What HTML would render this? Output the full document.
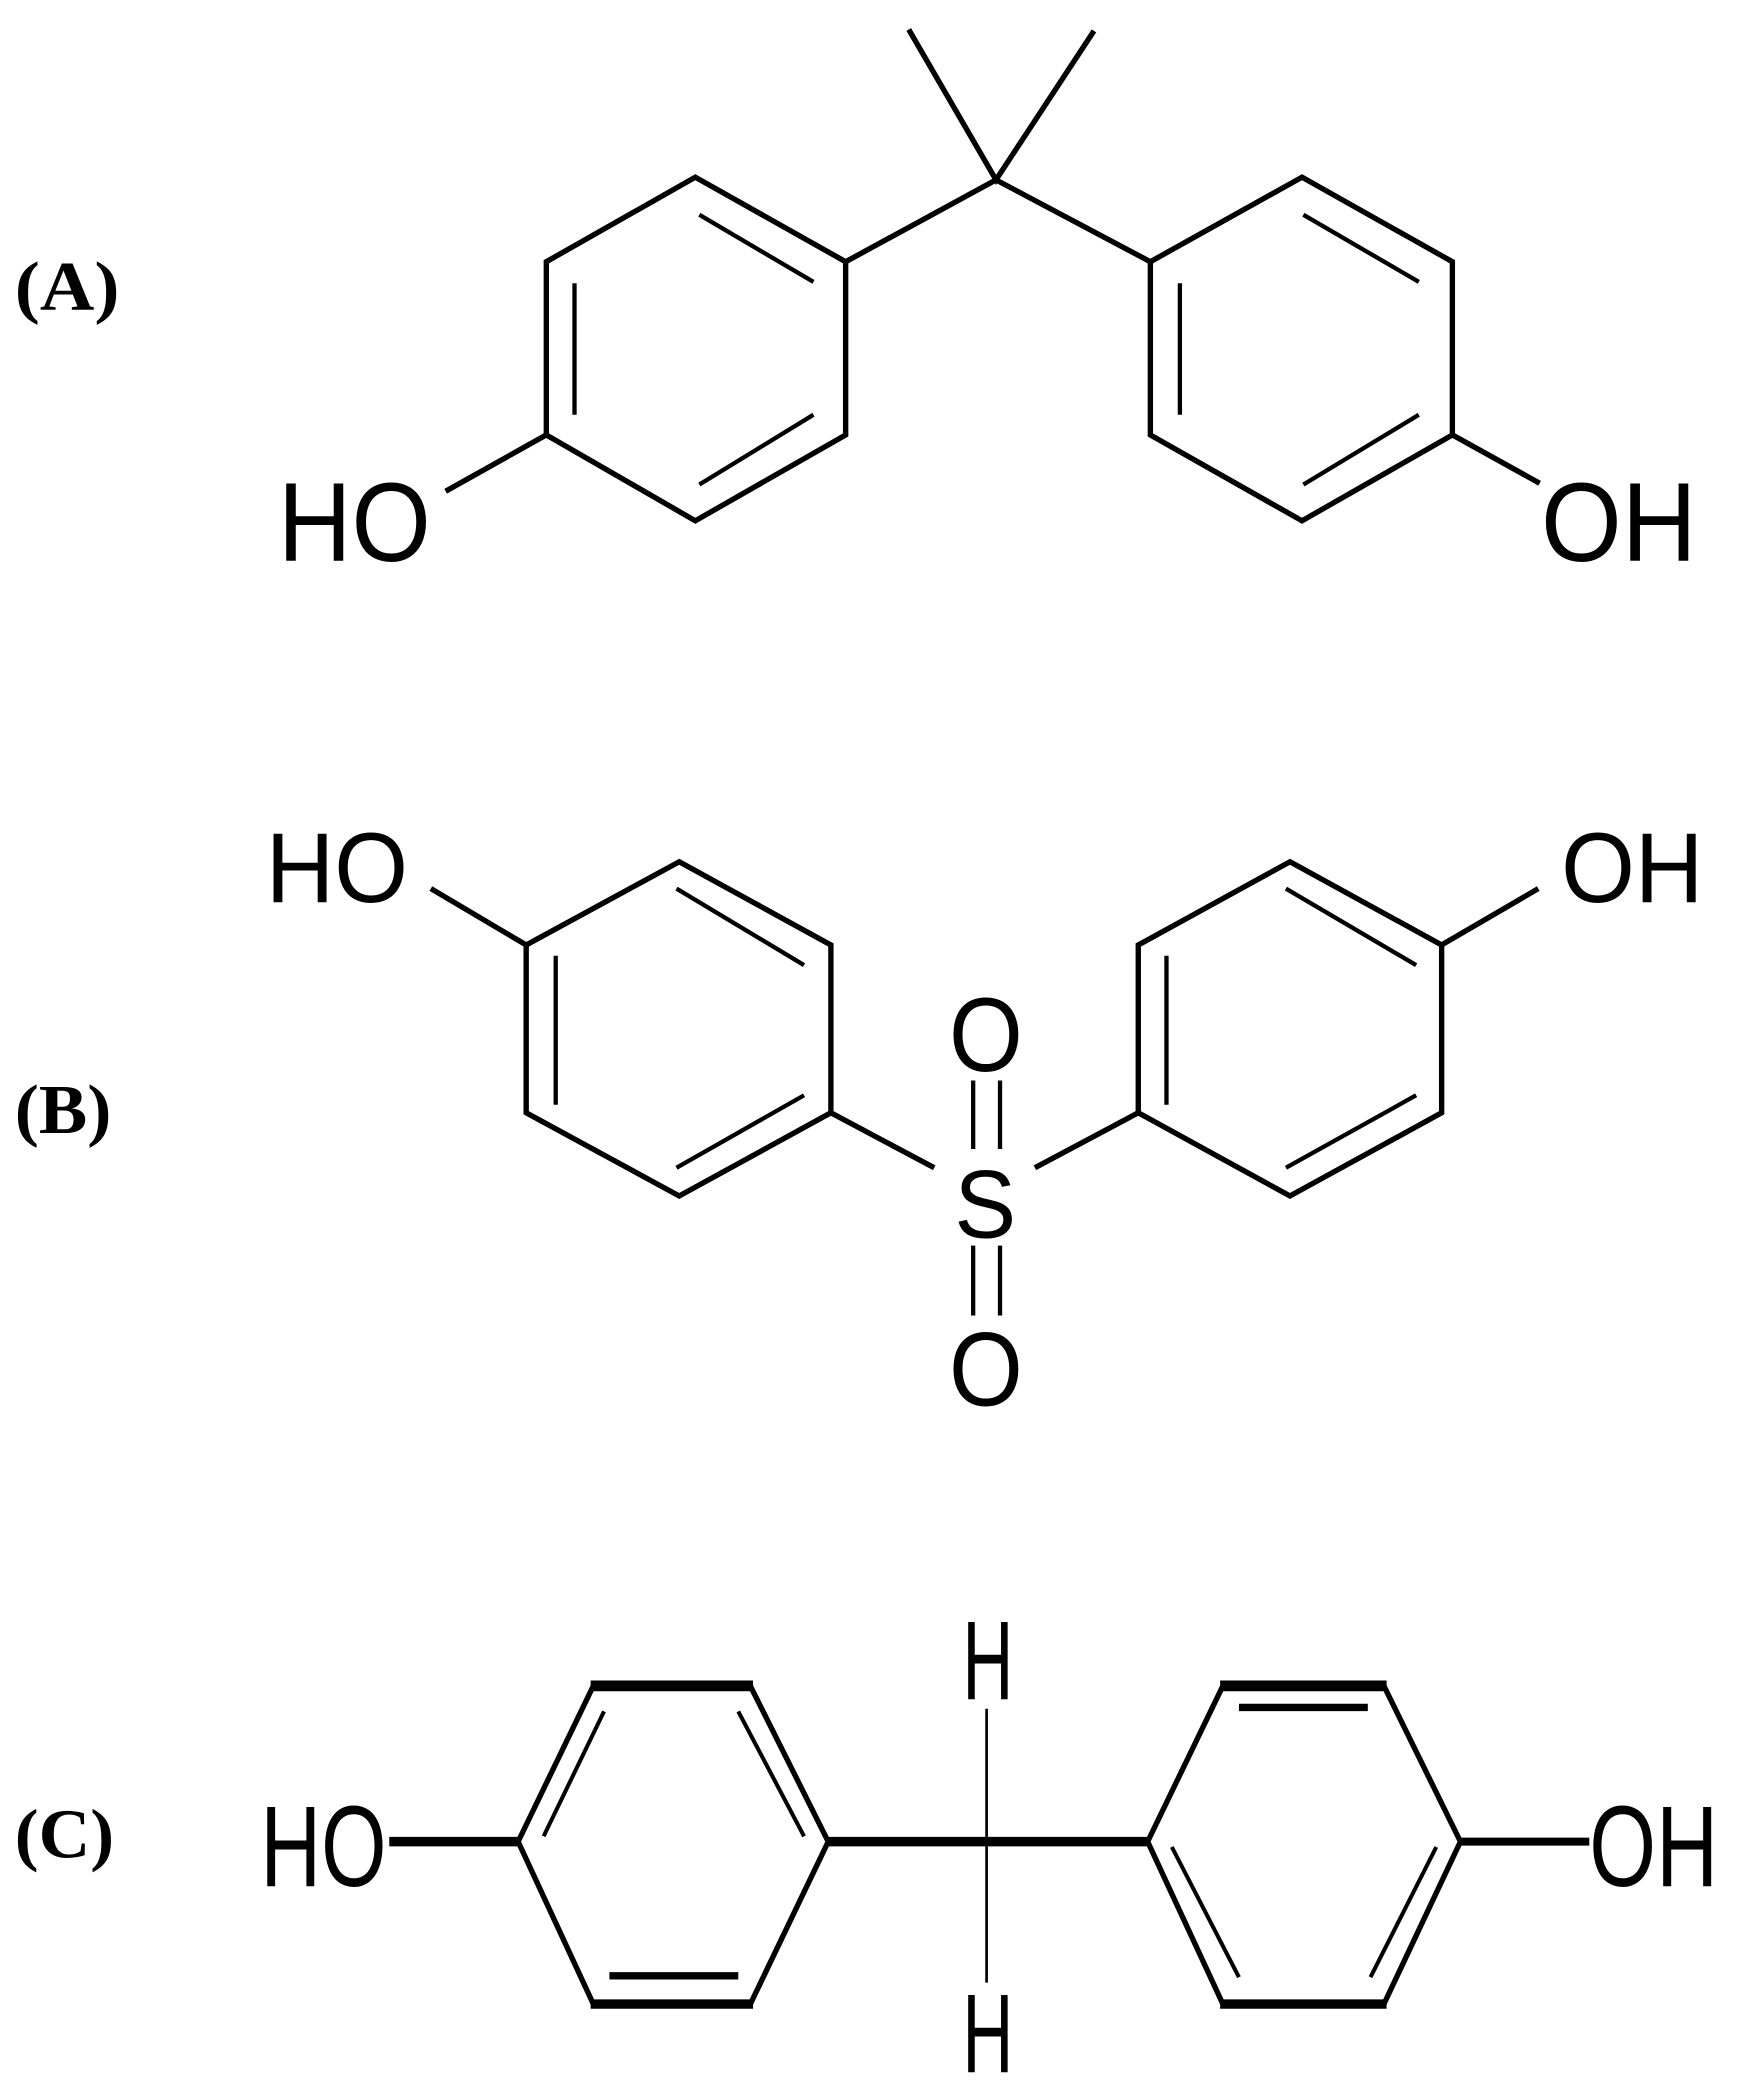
<!DOCTYPE html>
<html><head><meta charset="utf-8"><style>
html,body{margin:0;padding:0;background:#fff;}
svg{display:block;}
</style></head><body>
<svg width="1745" height="2098" viewBox="0 0 1300 1563" preserveAspectRatio="none" xmlns="http://www.w3.org/2000/svg">
<rect width="1300" height="1563" fill="#fff"/>
<g stroke="#000" stroke-width="4" fill="none" stroke-linecap="butt" stroke-linejoin="miter">
<!-- Panel A -->
<polygon points="518,132 630,195 630,324 518,388 407,324 407,195"/>
<polygon points="970,132 1082,195 1082,324 970,388 857,324 857,195"/>
<polyline points="677,22 742,134 815,23"/>
<line x1="742" y1="134" x2="630" y2="195"/>
<line x1="742" y1="134" x2="857" y2="195"/>
<line x1="521" y1="160" x2="606" y2="210" stroke-width="3.2"/>
<line x1="428" y1="211" x2="428" y2="309" stroke-width="3.2"/>
<line x1="606" y1="309" x2="521" y2="361" stroke-width="3.2"/>
<line x1="971" y1="160" x2="1057" y2="210" stroke-width="3.2"/>
<line x1="879" y1="211" x2="879" y2="309" stroke-width="3.2"/>
<line x1="1057" y1="309" x2="971" y2="361" stroke-width="3.2"/>
<line x1="407" y1="324" x2="332" y2="366"/>
<line x1="1082" y1="324" x2="1147" y2="360"/>
<!-- Panel B -->
<polygon points="506,642 619,704 619,829 506,891 392,829 392,704"/>
<polygon points="961,642 1074,704 1074,829 961,891 848,829 848,704"/>
<line x1="504" y1="662" x2="599" y2="719" stroke-width="3.2"/>
<line x1="414" y1="712" x2="414" y2="823" stroke-width="3.2"/>
<line x1="599" y1="816" x2="504" y2="870" stroke-width="3.2"/>
<line x1="958" y1="662" x2="1055" y2="719" stroke-width="3.2"/>
<line x1="869" y1="712" x2="869" y2="823" stroke-width="3.2"/>
<line x1="1055" y1="816" x2="958" y2="870" stroke-width="3.2"/>
<line x1="321" y1="662" x2="392" y2="704"/>
<line x1="1146" y1="662" x2="1074" y2="704"/>
<line x1="619" y1="829" x2="696" y2="870"/>
<line x1="848" y1="829" x2="771" y2="870"/>
<line x1="725" y1="805" x2="725" y2="856" stroke-width="3.2"/>
<line x1="745" y1="805" x2="745" y2="856" stroke-width="3.2"/>
<line x1="725" y1="928" x2="725" y2="980" stroke-width="3.2"/>
<line x1="745" y1="928" x2="745" y2="980" stroke-width="3.2"/>
<!-- Panel C -->
<polyline points="442,1256 386,1372 442,1493"/>
<polyline points="559,1256 617,1372 559,1493"/>
<polyline points="911,1256 855,1372 911,1493"/>
<polyline points="1031,1256 1088,1372 1031,1493"/>
<line x1="440" y1="1256" x2="561" y2="1256" stroke-width="8"/>
<line x1="440" y1="1493" x2="561" y2="1493" stroke-width="7"/>
<line x1="909" y1="1256" x2="1033" y2="1256" stroke-width="8"/>
<line x1="909" y1="1493" x2="1033" y2="1493" stroke-width="7"/>
<line x1="450" y1="1275" x2="405" y2="1368" stroke-width="3"/>
<line x1="550" y1="1275" x2="599" y2="1368" stroke-width="3"/>
<line x1="454" y1="1472" x2="550" y2="1472" stroke-width="5.5"/>
<line x1="923" y1="1272" x2="1019" y2="1272" stroke-width="5.5"/>
<line x1="873" y1="1376" x2="923" y2="1473" stroke-width="3"/>
<line x1="1070" y1="1376" x2="1021" y2="1473" stroke-width="3"/>
<line x1="290" y1="1372" x2="386" y2="1372" stroke-width="7"/>
<line x1="617" y1="1372" x2="855" y2="1372" stroke-width="7"/>
<line x1="1088" y1="1372" x2="1184" y2="1372" stroke-width="6"/>
<line x1="735" y1="1273" x2="735" y2="1477" stroke-width="2"/>
</g>
<g font-family="Liberation Sans, sans-serif" fill="#000">
<text x="207" y="418" font-size="84" textLength="114" lengthAdjust="spacingAndGlyphs">HO</text>
<text x="1148" y="418" font-size="84" textLength="116" lengthAdjust="spacingAndGlyphs">OH</text>
<text x="198" y="672" font-size="74" textLength="106" lengthAdjust="spacingAndGlyphs">HO</text>
<text x="1163" y="672" font-size="74" textLength="106" lengthAdjust="spacingAndGlyphs">OH</text>
<text x="707" y="798" font-size="78" textLength="55" lengthAdjust="spacingAndGlyphs">O</text>
<text x="711" y="922" font-size="72" textLength="46" lengthAdjust="spacingAndGlyphs">S</text>
<text x="707" y="1047" font-size="78" textLength="55" lengthAdjust="spacingAndGlyphs">O</text>
<text x="194" y="1405" font-size="86" textLength="94" lengthAdjust="spacingAndGlyphs">HO</text>
<text x="1184" y="1405" font-size="86" textLength="96" lengthAdjust="spacingAndGlyphs">OH</text>
<text x="717" y="1266" font-size="84" textLength="38" lengthAdjust="spacingAndGlyphs">H</text>
<text x="717" y="1544" font-size="84" textLength="38" lengthAdjust="spacingAndGlyphs">H</text>
</g>
<g font-family="Liberation Serif, serif" font-weight="bold" fill="#000">
<text x="11" y="231" font-size="52" textLength="78" lengthAdjust="spacingAndGlyphs">(A)</text>
<text x="11" y="844" font-size="52" textLength="72" lengthAdjust="spacingAndGlyphs">(B)</text>
<text x="11" y="1384" font-size="52" textLength="74" lengthAdjust="spacingAndGlyphs">(C)</text>
</g>
</svg>
</body></html>
